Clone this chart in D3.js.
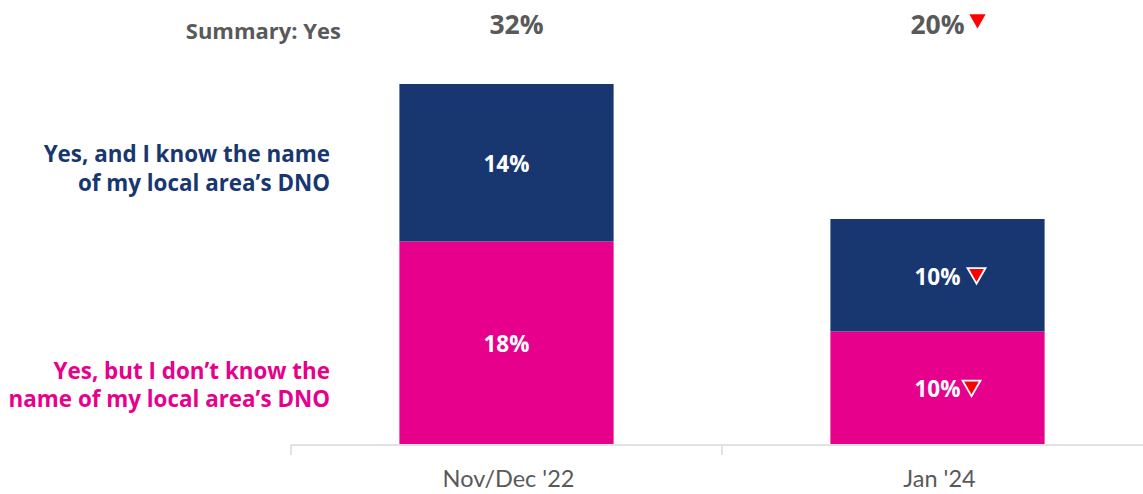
<!DOCTYPE html>
<html>
<head>
<meta charset="utf-8">
<script src="https://cdn.jsdelivr.net/npm/d3@7"></script>
<style>
  html, body { margin: 0; padding: 0; background: #fff; }
  svg { display: block; font-family: "Open Sans", sans-serif; }
</style>
</head>
<body>
<svg id="chart" width="1143" height="494"></svg>
<script>
// Survey waves and stacked shares (%)
const periods = ["Nov/Dec '22", "Jan '24"];
const knowName = [14, 10];        // Yes, and I know the name of my local area's DNO
const dontKnowName = [18, 10];    // Yes, but I don't know the name of my local area's DNO
const summaryYes = [32, 20];
// Significant decrease vs previous wave
const knowDown = [false, true];
const dontKnowDown = [false, true];
const summaryDown = [false, true];

const seriesNames = [
  ["Yes, and I know the name", "of my local area\u2019s DNO"],
  ["Yes, but I don\u2019t know the", "name of my local area\u2019s DNO"]
];
const navy = "#183770";
const pink = "#E6008C";
const grey = "#595959";

const svg = d3.select("#chart");

const x = d3.scaleBand().domain(periods).range([291, 1153]).paddingInner(0).paddingOuter(0);
const y = d3.scaleLinear().domain([0, 32]).range([444, 84]);
const barW = x.bandwidth() * 0.497;

const rows = periods.map((p, i) => ({ period: p, dont: dontKnowName[i], know: knowName[i] }));
const stack = d3.stack().keys(["dont", "know"])(rows);
const colors = { dont: pink, know: navy };

// Stacked bars
svg.append("g").selectAll("g").data(stack).join("g")
  .attr("fill", d => colors[d.key])
  .selectAll("rect").data(d => d).join("rect")
  .attr("x", d => x(d.data.period) + (x.bandwidth() - barW) / 2)
  .attr("width", barW)
  .attr("y", d => y(d[1]))
  .attr("height", d => y(d[0]) - y(d[1]));

// Category axis
const axisG = svg.append("g").attr("transform", "translate(0,445)")
  .call(d3.axisBottom(x).tickSize(0).tickPadding(25));
axisG.select(".domain").attr("stroke", "#d9d9d9").attr("stroke-width", 1.5)
  .attr("d", "M291,0H1143");
axisG.selectAll(".tick text")
  .attr("fill", grey).attr("font-size", 23.5).attr("font-family", "Lato, sans-serif")
  .attr("dy", "0.71em");
axisG.selectAll(".tick").attr("transform", d => `translate(${x(d) + x.bandwidth() / 2 + 2},0)`);
// boundary ticks between categories
const bounds = [291, 722];
axisG.selectAll(".bound").data(bounds).join("line")
  .attr("class", "bound").attr("x1", d => d).attr("x2", d => d)
  .attr("y1", 0).attr("y2", 10).attr("stroke", "#d9d9d9").attr("stroke-width", 1.5);

const tri = d3.symbol().type(d3.symbolTriangle);
function downArrow(g, cx, cy, size, outlined) {
  g.append("path")
    .attr("d", tri.size(size)())
    .attr("transform", `translate(${cx},${cy}) rotate(180)`)
    .attr("fill", "#FF0000")
    .attr("stroke", outlined ? "#fff" : "none")
    .attr("stroke-width", outlined ? 1.8 : 0);
}

// Segment value labels
const labG = svg.append("g");
stack.forEach(s => {
  s.forEach((d, i) => {
    const cx = x(d.data.period) + x.bandwidth() / 2;
    const cy = (y(d[0]) + y(d[1])) / 2;
    const v = d[1] - d[0];
    const down = s.key === "know" ? knowDown[i] : dontKnowDown[i];
    labG.append("text")
      .attr("x", cx).attr("y", cy + 1)
      .attr("text-anchor", "middle").attr("dominant-baseline", "central")
      .attr("fill", "#fff").attr("font-weight", 700).attr("font-size", 22.5)
      .text(v + "%");
    if (down) {
      const dx = s.key === "know" ? 39 : 34;
      downArrow(labG, cx + dx, cy - 2, 140, true);
    }
  });
});

// Summary row
svg.append("text").attr("x", 341).attr("y", 30)
  .attr("text-anchor", "end").attr("dominant-baseline", "central")
  .attr("fill", grey).attr("font-weight", 700).attr("font-size", 22)
  .text("Summary: Yes");
periods.forEach((p, i) => {
  const cx = x(p) + x.bandwidth() / 2;
  svg.append("text").attr("x", cx + (summaryDown[i] ? 0 : 10)).attr("y", 24)
    .attr("text-anchor", "middle").attr("dominant-baseline", "central")
    .attr("fill", grey).attr("font-weight", 700).attr("font-size", 26.5)
    .text(summaryYes[i] + "%");
  if (summaryDown[i]) downArrow(svg, cx + 40, 19, 115, false);
});

// Series labels on the left
const seriesY = [[153, 182], [370, 398]];
const seriesCol = [navy, pink];
seriesNames.forEach((lines, k) => {
  lines.forEach((t, j) => {
    svg.append("text").attr("x", 330).attr("y", seriesY[k][j])
      .attr("text-anchor", "end").attr("dominant-baseline", "central")
      .attr("fill", seriesCol[k]).attr("font-weight", 700).attr("font-size", 22.4)
      .text(t);
  });
});
</script>
</body>
</html>
